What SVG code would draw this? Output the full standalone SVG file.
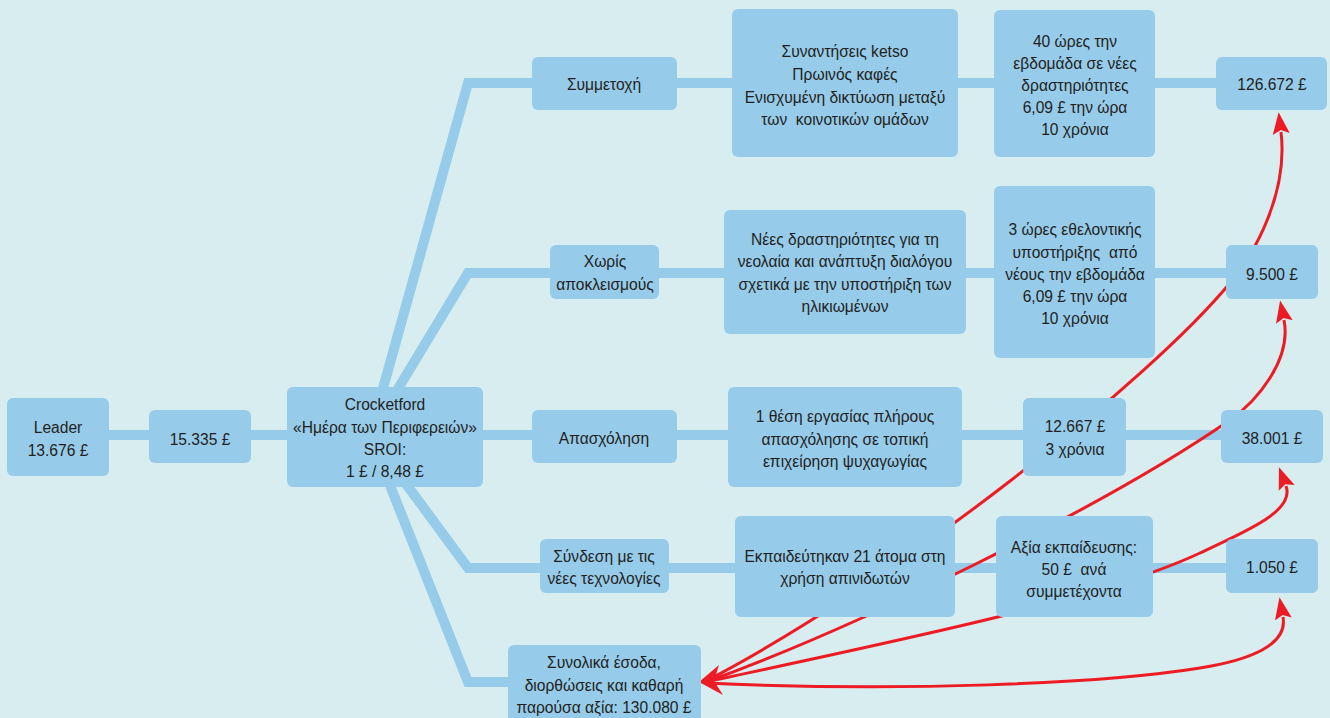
<svg xmlns="http://www.w3.org/2000/svg" width="1330" height="718" viewBox="0 0 1330 718">
<style>
.bg{fill:#d8edef}
.box{fill:#96cbea}
.conn{fill:none;stroke:#96cbea;stroke-width:10;stroke-linejoin:miter}
.red{fill:none;stroke:#ed1c24;stroke-width:3}
text{font-family:"Liberation Sans",Arial,sans-serif;font-size:15.6px;fill:#231f20;text-anchor:middle;white-space:pre}
</style>
<defs>
<marker id="ah" markerUnits="userSpaceOnUse" markerWidth="24" markerHeight="20" viewBox="0 0 24 20" refX="2" refY="10" orient="auto">
<path d="M0,1.5 L22,10 L0,18.5 L4,10 Z" fill="#ed1c24"/>
</marker>
</defs>
<rect class="bg" x="0" y="0" width="1330" height="718"/>
<g id="connectors">
<path class="conn" d="M100,435 H1225"/>
<path class="conn" d="M370,435 L468,83 H1220"/>
<path class="conn" d="M370,435 L468,273 H1230"/>
<path class="conn" d="M370,435 L468,568 H1230"/>
<path class="conn" d="M370,435 L468,682 H512"/>
<path class="red" d="M706,681 C900,580 1150,380 1230,283 C1258,249 1288,190 1281,132" marker-end="url(#ah)"/>
<path class="red" d="M706,682 C850,630 1100,510 1230,420 C1256,402 1292,360 1284,320" marker-end="url(#ah)"/>
<path class="red" d="M706,682 C900,640 1100,600 1200,553 C1250,530 1295,510 1286,486" marker-end="url(#ah)"/>
<path class="red" d="M706,683 C900,692 1100,684 1200,668 C1250,660 1288,645 1283,617" marker-end="url(#ah)"/>
<polygon points="699,682 719,665 714,681 723,695" fill="#ed1c24"/>
</g>
<g id="n-leader"><rect class="box" x="7" y="398" width="102" height="78" rx="6"/><text x="58" y="433">Leader</text><text x="58" y="456">13.676 £</text></g>
<g id="n-15335"><rect class="box" x="149" y="410" width="102" height="53" rx="6"/><text x="200" y="445">15.335 £</text></g>
<g id="n-crocketford"><rect class="box" x="287" y="387" width="196" height="100" rx="6"/><text x="385" y="410">Crocketford</text><text x="385" y="433">«Ημέρα των Περιφερειών»</text><text x="385" y="455">SROI:</text><text x="385" y="477">1 £ / 8,48 £</text></g>
<g id="n-symmetoxi"><rect class="box" x="532" y="57" width="145" height="53" rx="6"/><text x="604" y="90">Συμμετοχή</text></g>
<g id="n-synantiseis"><rect class="box" x="732" y="9" width="226" height="148" rx="6"/><text x="845" y="57">Συναντήσεις ketso</text><text x="845" y="80">Πρωινός καφές</text><text x="845" y="103">Ενισχυμένη δικτύωση μεταξύ</text><text x="845" y="125">των  κοινοτικών ομάδων</text></g>
<g id="n-40ores"><rect class="box" x="994" y="10" width="161" height="147" rx="6"/><text x="1075" y="47">40 ώρες την</text><text x="1075" y="69">εβδομάδα σε νέες</text><text x="1075" y="91">δραστηριότητες</text><text x="1075" y="113">6,09 £ την ώρα</text><text x="1075" y="135">10 χρόνια</text></g>
<g id="n-126672"><rect class="box" x="1216" y="57" width="111" height="53" rx="6"/><text x="1272" y="90">126.672 £</text></g>
<g id="n-xoris"><rect class="box" x="550" y="245" width="109" height="54" rx="6"/><text x="605" y="267">Χωρίς</text><text x="605" y="290">αποκλεισμούς</text></g>
<g id="n-nees"><rect class="box" x="724" y="210" width="242" height="124" rx="6"/><text x="845" y="245">Νέες δραστηριότητες για τη</text><text x="845" y="267">νεολαία και ανάπτυξη διαλόγου</text><text x="845" y="290">σχετικά με την υποστήριξη των</text><text x="845" y="312">ηλικιωμένων</text></g>
<g id="n-3ores"><rect class="box" x="994" y="186" width="161" height="172" rx="6"/><text x="1075" y="235">3 ώρες εθελοντικής</text><text x="1075" y="258">υποστήριξης  από</text><text x="1075" y="280">νέους την εβδομάδα</text><text x="1075" y="302">6,09 £ την ώρα</text><text x="1075" y="324">10 χρόνια</text></g>
<g id="n-9500"><rect class="box" x="1226" y="245" width="92" height="54" rx="6"/><text x="1272" y="280">9.500 £</text></g>
<g id="n-apasxolisi"><rect class="box" x="532" y="410" width="145" height="53" rx="6"/><text x="604" y="444">Απασχόληση</text></g>
<g id="n-thesi"><rect class="box" x="728" y="387" width="234" height="100" rx="6"/><text x="845" y="422">1 θέση εργασίας πλήρους</text><text x="845" y="445">απασχόλησης σε τοπική</text><text x="845" y="467">επιχείρηση ψυχαγωγίας</text></g>
<g id="n-12667"><rect class="box" x="1023" y="398" width="103" height="78" rx="6"/><text x="1075" y="432">12.667 £</text><text x="1075" y="455">3 χρόνια</text></g>
<g id="n-38001"><rect class="box" x="1221" y="410" width="102" height="53" rx="6"/><text x="1272" y="444">38.001 £</text></g>
<g id="n-syndesi"><rect class="box" x="540" y="539" width="129" height="54" rx="6"/><text x="604" y="562">Σύνδεση με τις</text><text x="604" y="584">νέες τεχνολογίες</text></g>
<g id="n-ekpaideutikan"><rect class="box" x="735" y="516" width="220" height="101" rx="6"/><text x="845" y="562">Εκπαιδεύτηκαν 21 άτομα στη</text><text x="845" y="584">χρήση απινιδωτών</text></g>
<g id="n-axia"><rect class="box" x="996" y="516" width="157" height="101" rx="6"/><text x="1074" y="553">Αξία εκπαίδευσης:</text><text x="1074" y="575">50 £  ανά</text><text x="1074" y="597">συμμετέχοντα</text></g>
<g id="n-1050"><rect class="box" x="1226" y="539" width="92" height="54" rx="6"/><text x="1272" y="573">1.050 £</text></g>
<g id="n-synolika"><rect class="box" x="508" y="645" width="193" height="80" rx="6"/><text x="604" y="668">Συνολικά έσοδα,</text><text x="604" y="691">διορθώσεις και καθαρή</text><text x="604" y="713">παρούσα αξία: 130.080 £</text></g>
</svg>
